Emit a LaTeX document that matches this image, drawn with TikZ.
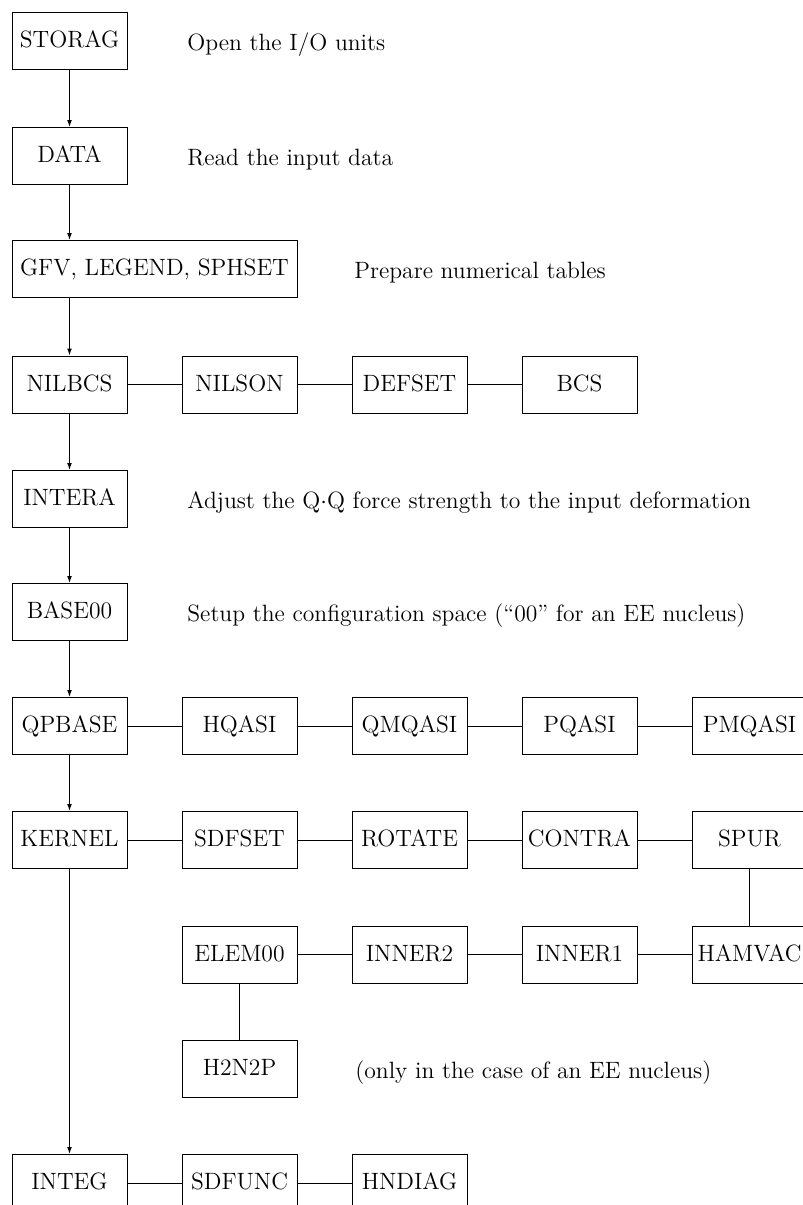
\documentclass[tikz,border=0pt]{standalone}
\usetikzlibrary{arrows.meta}
\begin{document}
\begin{tikzpicture}[x=0.5pt,y=-0.5pt,
  font=\fontsize{11.8}{14.2}\selectfont,
  box/.style={draw, line width=0.5pt, minimum width=57.5pt, minimum height=28.5pt,
              inner sep=0pt, text height=1.59ex, text depth=0pt},
  widebox/.style={box, minimum width=142.5pt},
  flow/.style={-{Latex[length=3.5pt,width=2.4pt]}, line width=0.5pt},
  link/.style={line width=0.5pt},
  note/.style={anchor=base west, inner sep=0pt}]
\useasboundingbox (0,0) rectangle (803,1205);
\clip (0,0) rectangle (803,1205);
% main column
\node[box] (storag) at (69.5,40.5) {STORAG};
\node[box] (data)   at (69.5,156) {DATA};
\node[widebox] (gfv) at (154.5,269) {GFV, LEGEND, SPHSET};
\node[box] (nilbcs) at (69.5,384.5) {NILBCS};
\node[box] (nilson) at (239.5,384.5) {NILSON};
\node[box] (defset) at (409.5,384.5) {DEFSET};
\node[box] (bcs)    at (579.5,384.5) {BCS};
\node[box] (intera) at (69.5,499) {INTERA};
\node[box] (base)   at (69.5,612) {BASE00};
\node[box] (qpbase) at (69.5,726) {QPBASE};
\node[box] (hqasi)  at (239.5,726) {HQASI};
\node[box] (qmqasi) at (409.5,726) {QMQASI};
\node[box] (pqasi)  at (579.5,726) {PQASI};
\node[box] (pmqasi) at (749.5,726) {PMQASI};
\node[box] (kernel) at (69.5,840) {KERNEL};
\node[box] (sdfset) at (239.5,840) {SDFSET};
\node[box] (rotate) at (409.5,840) {ROTATE};
\node[box] (contra) at (579.5,840) {CONTRA};
\node[box] (spur)   at (749.5,840) {SPUR};
\node[box] (elem)   at (239.5,954.5) {ELEM00};
\node[box] (inner2) at (409.5,954.5) {INNER2};
\node[box] (inner1) at (579.5,954.5) {INNER1};
\node[box] (hamvac) at (749.5,954.5) {HAMVAC};
\node[box] (h2n2p)  at (239.5,1068.5) {H2N2P};
\node[box] (integ)  at (69.5,1183) {INTEG};
\node[box] (sdfunc) at (239.5,1183) {SDFUNC};
\node[box] (hndiag) at (409.5,1183) {HNDIAG};
% notes
\node[note] (n1) at (187,50) {Open the I/O units};
\node[note] (n2) at (187,165.5) {Read the input data};
\node[note] (n3) at (354,278.5) {Prepare numerical tables};
\node[note] (n4) at (187,508.5) {Adjust the Q$\cdot$Q force strength to the input deformation};
\node[note] (n5) at (187,621.5) {Setup the configuration space (``00'' for an EE nucleus)};
\node[note] (n6) at (355,1078) {(only in the case of an EE nucleus)};
% arrows
\draw[flow] (storag) -- (data);
\draw[flow] (data.south) -- (data.south |- gfv.north);
\draw[flow] (nilbcs.north |- gfv.south) -- (nilbcs.north);
\draw[flow] (nilbcs) -- (intera);
\draw[flow] (intera) -- (base);
\draw[flow] (base) -- (qpbase);
\draw[flow] (qpbase) -- (kernel);
\draw[flow] (kernel) -- (integ);
% links
\draw[link] (nilbcs) -- (nilson) (nilson) -- (defset) (defset) -- (bcs);
\draw[link] (qpbase) -- (hqasi) (hqasi) -- (qmqasi) (qmqasi) -- (pqasi) (pqasi) -- (pmqasi);
\draw[link] (kernel) -- (sdfset) (sdfset) -- (rotate) (rotate) -- (contra) (contra) -- (spur);
\draw[link] (spur) -- (hamvac);
\draw[link] (elem) -- (inner2) (inner2) -- (inner1) (inner1) -- (hamvac);
\draw[link] (elem) -- (h2n2p);
\draw[link] (integ) -- (sdfunc) (sdfunc) -- (hndiag);
\end{tikzpicture}
\end{document}
